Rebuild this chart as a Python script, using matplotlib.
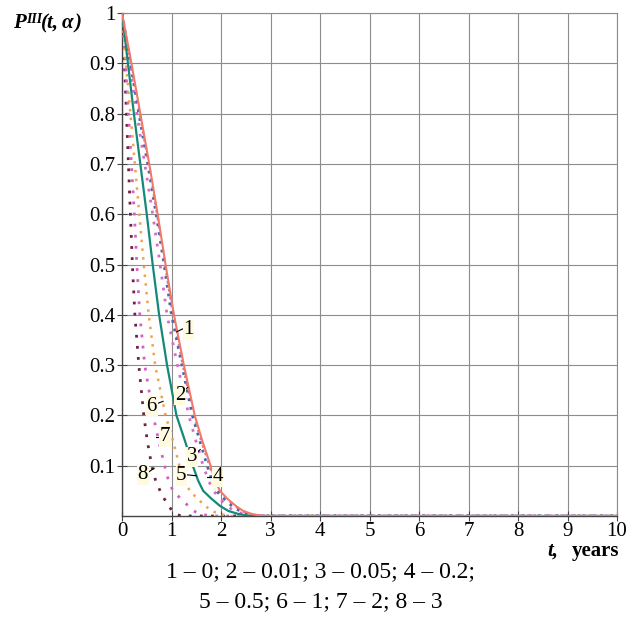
import matplotlib
matplotlib.use("Agg")
import matplotlib.pyplot as plt

plt.rcParams['font.family'] = ['Liberation Serif', 'DejaVu Serif']

# P levels at which t was read for each curve (last point extends the zero tail to t = 10)
P_levels = [1.0, 0.9, 0.8, 0.7, 0.6, 0.5, 0.4, 0.3, 0.2, 0.15, 0.1, 0.07, 0.05,
            0.035, 0.02, 0.01, 0.004, 0.0, 0.0]

t1 = [0, 0.19, 0.37, 0.55, 0.72, 0.88, 1.05, 1.25, 1.47, 1.62, 1.79, 1.88, 1.98,
      2.12, 2.30, 2.45, 2.62, 2.85, 10]
t2 = [0, 0.18, 0.36, 0.54, 0.71, 0.87, 1.03, 1.23, 1.45, 1.60, 1.77, 1.86, 1.96,
      2.10, 2.28, 2.43, 2.60, 2.83, 10]
t3 = [0, 0.15, 0.30, 0.46, 0.62, 0.77, 0.91, 1.12, 1.35, 1.49, 1.64, 1.75, 1.85,
      1.97, 2.11, 2.28, 2.45, 2.65, 10]
t4 = [0, 0.17, 0.34, 0.52, 0.69, 0.85, 1.00, 1.21, 1.42, 1.57, 1.72, 1.82, 1.91,
      2.05, 2.22, 2.38, 2.55, 2.75, 10]
t5 = [0, 0.12, 0.24, 0.37, 0.50, 0.62, 0.75, 0.91, 1.10, 1.27, 1.43, 1.54, 1.64,
      1.80, 1.98, 2.15, 2.35, 2.60, 10]
t6 = [0, 0.08, 0.17, 0.26, 0.35, 0.44, 0.54, 0.67, 0.88, 1.03, 1.16, 1.26, 1.37,
      1.52, 1.68, 1.82, 1.96, 2.20, 10]
t7 = [0, 0.07, 0.13, 0.19, 0.25, 0.30, 0.36, 0.46, 0.63, 0.74, 0.86, 0.94, 1.03,
      1.18, 1.34, 1.45, 1.57, 1.80, 10]
t8 = [0, 0.05, 0.09, 0.13, 0.17, 0.21, 0.26, 0.34, 0.44, 0.51, 0.60, 0.68, 0.77,
      0.85, 0.94, 1.02, 1.08, 1.20, 10]

curve_labels = ["1", "2", "3", "4", "5", "6", "7", "8"]
x_ticks = list(range(0, 11))
y_ticks = [0.1, 0.2, 0.3, 0.4, 0.5, 0.6, 0.7, 0.8, 0.9, 1.0]
y_tick_labels = ["0.1", "0.2", "0.3", "0.4", "0.5", "0.6", "0.7", "0.8", "0.9", "1"]

# label text positions (t, P) and leader end points
label_pos = {
    "1": ((1.34, 0.370), (1.10, 0.366), (1.27, 0.374)),
    "2": ((1.17, 0.240), (1.22, 0.245), (1.33, 0.256)),
    "3": ((1.41, 0.118), (1.47, 0.122), (1.58, 0.132)),
    "4": ((1.93, 0.078), (1.84, 0.078), (1.72, 0.078)),
    "5": ((1.20, 0.080), (1.30, 0.082), (1.50, 0.080)),
    "6": ((0.60, 0.218), (0.67, 0.222), (0.83, 0.228)),
    "7": ((0.87, 0.158), (0.79, 0.158), (0.69, 0.158)),
    "8": ((0.42, 0.082), (0.50, 0.085), (0.65, 0.095)),
}

W, H = 643, 619
fig = plt.figure(figsize=(W / 100, H / 100), dpi=100)
ax = fig.add_axes([122 / W, 1 - 516 / H, 495 / W, 503 / H])

ax.set_xlim(0, 10)
ax.set_ylim(0, 1)
ax.set_xticks(x_ticks)
ax.set_yticks(y_ticks)
ax.set_yticklabels(y_tick_labels)
ax.grid(True, color='#8c8c8c', linewidth=0.8)
ax.set_axisbelow(True)
for s in ['top', 'right']:
    ax.spines[s].set_color('#8c8c8c')
    ax.spines[s].set_linewidth(0.8)
for s in ['left', 'bottom']:
    ax.spines[s].set_color('#444444')
    ax.spines[s].set_linewidth(1.0)
ax.tick_params(direction='inout', length=7, width=0.8, color='#444444',
               labelsize=15, pad=1)

ax.plot(t2, P_levels, color='#e0708a', lw=1.8, ls=(0, (1, 2.2)), zorder=3)
ax.plot(t8, P_levels, color='#6e2344', lw=2.0, ls=(0, (1, 3)), zorder=3)
ax.plot(t7, P_levels, color='#d35fc3', lw=2.0, ls=(0, (1, 3)), zorder=3)
ax.plot(t6, P_levels, color='#f2a24a', lw=1.8, ls=(0, (1, 2.5)), zorder=3)
ax.plot(t5, P_levels, color='#14897a', lw=1.6, zorder=4)
ax.plot(t3, P_levels, color='#d86ac8', lw=2.0, ls=(0, (1, 3)), zorder=3)
ax.plot(t4, P_levels, color='#4a68b0', lw=2.0, ls=(0, (1, 2.2)), zorder=3)
ax.plot(t1, P_levels, color='#f07a6a', lw=1.5, zorder=5)

for lab in curve_labels:
    (tx, ty), (a0, b0), (a1, b1) = label_pos[lab]
    ax.plot([a0, a1], [b0, b1], color='black', lw=0.8, zorder=6)
    ax.text(tx, ty, lab, fontsize=15, ha='center', va='center', zorder=7,
            bbox=dict(facecolor='#fffbe0', edgecolor='none', pad=0.5))

def ftext(px, py, s, **kw):
    fig.text(px / W, 1 - py / H, s, ha='left', va='baseline', **kw)

# y-axis title
bi = dict(fontweight='bold', fontstyle='italic')
ftext(13, 28, "P", fontsize=15, **bi)
ftext(26, 23, "III", fontsize=10, **bi)
ftext(41, 28, "(t,", fontsize=15, **bi)
ftext(62, 28, "α", fontsize=15, **bi)
ftext(75, 28, ")", fontsize=15, **bi)

# x-axis title
ftext(547, 556, "t,", fontsize=15, **bi)
ftext(572, 556, "years", fontsize=15, fontweight='bold')

fig.text(321 / W, 1 - 577 / H, "1 – 0; 2 – 0.01; 3 – 0.05; 4 – 0.2;", fontsize=17,
         ha='center', va='baseline')
fig.text(321 / W, 1 - 607 / H, "5 – 0.5; 6 – 1; 7 – 2; 8 – 3", fontsize=17,
         ha='center', va='baseline')

fig.savefig("out.png", dpi=100, facecolor='white')
